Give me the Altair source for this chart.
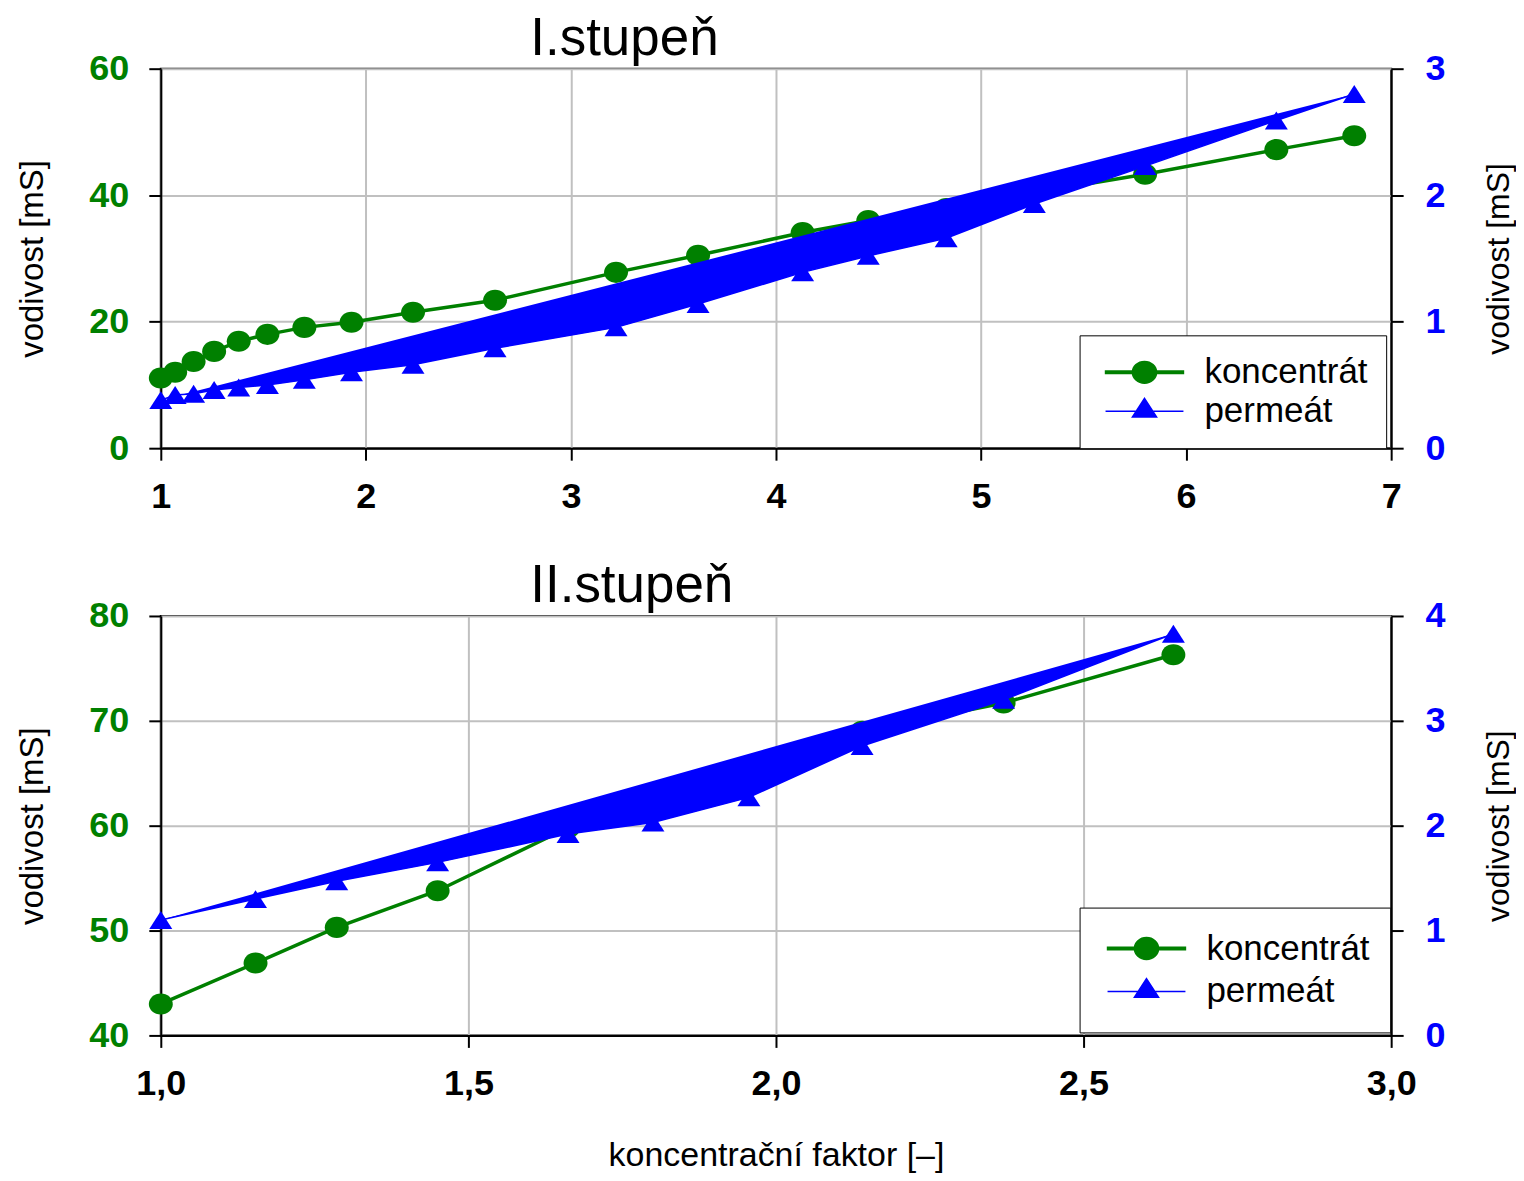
import altair as alt
import pandas as pd

FONT = "Liberation Sans"
GREEN = "#008000"
BLUE = "#0000ff"
GRID = "#c0c0c0"

series_names = ["koncentrát", "permeát"]

# ---- Panel I (I.stupeň) ----
x1 = [1.00, 1.07, 1.16, 1.26, 1.38, 1.52, 1.70, 1.93, 2.23, 2.63, 3.22, 3.62,
      4.13, 4.45, 4.83, 5.26, 5.80, 6.44, 6.82]
konc1 = [11.1, 12.0, 13.7, 15.3, 16.9, 18.0, 19.1, 19.9, 21.5, 23.4, 27.8, 30.5,
         34.1, 36.0, 37.9, 40.4, 43.3, 47.2, 49.4]
perm1 = [0.38, 0.42, 0.43, 0.46, 0.48, 0.50, 0.54, 0.60, 0.66, 0.79, 0.955, 1.14,
         1.39, 1.52, 1.66, 1.93, 2.23, 2.59, 2.80]
x1_ticks = [1, 2, 3, 4, 5, 6, 7]
yl1_ticks = [0, 20, 40, 60]
yr1_ticks = [0, 1, 2, 3]

# ---- Panel II (II.stupeň) ----
x2 = [1.00, 1.154, 1.286, 1.45, 1.662, 1.80, 1.956, 2.14, 2.37, 2.646]
konc2 = [43.0, 46.9, 50.3, 53.8, 59.8, 62.5, 65.7, 69.0, 71.7, 76.3]
perm2 = [1.10, 1.30, 1.47, 1.65, 1.92, 2.03, 2.27, 2.76, 3.20, 3.83]
x2_ticks = [1.0, 1.5, 2.0, 2.5, 3.0]
yl2_ticks = [40, 50, 60, 70, 80]
yr2_ticks = [0, 1, 2, 3, 4]

CIRCLE = "M-1,0A1,0.88 0 1,1 1,0A1,0.88 0 1,1 -1,0Z"
TRIANGLE = "M0,-0.78L1,0.78L-1,0.78Z"
LEG_CIRCLE = ("M-1,-0.03L1,-0.03L1,0.03L-1,0.03Z "
              "M-0.31,0A0.31,0.28 0 1,1 0.31,0A0.31,0.28 0 1,1 -0.31,0Z")
LEG_TRIANGLE = "M-1,0L1,0M0,-0.33L0.31,0.15L-0.31,0.15Z"


def panel(xs, konc, perm, xdom, xticks, xlabel_expr, x_title, yl_dom, yl_ticks,
          yr_dom, yr_ticks, height, title, leg_y, clip_h, leg_pad):
    df = pd.DataFrame({"x": xs, "konc": konc, "perm": perm})
    leg_df = pd.DataFrame({"series": series_names,
                           "x": [xdom[0]] * 2, "y": [yl_dom[0]] * 2})

    xaxis = alt.Axis(values=xticks, labelExpr=xlabel_expr, title=x_title,
                     grid=True, labelPadding=19, titlePadding=37,
                     titleFontSize=34, labelFlush=False)
    X = alt.X("x:Q", scale=alt.Scale(domain=xdom, nice=False, zero=False),
              axis=xaxis)

    yl_scale = alt.Scale(domain=yl_dom, nice=False, zero=False)
    yl_axis = alt.Axis(values=yl_ticks, labelColor=GREEN, title="vodivost [mS]",
                       grid=True, orient="left", labelPadding=20, titlePadding=39,
                       labelFlush=False)
    yr_scale = alt.Scale(domain=yr_dom, nice=False, zero=False)
    yr_axis = alt.Axis(values=yr_ticks, labelColor=BLUE, title="vodivost [mS]",
                       grid=False, orient="right", labelPadding=22,
                       titlePadding=38, titleFontSize=32, titleAngle=270,
                       titleBaseline="top", labelFlush=False)

    green_line = alt.Chart(df).mark_line(color=GREEN, strokeWidth=3.5).encode(
        x=X, y=alt.Y("konc:Q", scale=yl_scale, axis=yl_axis))
    green_pts = alt.Chart(df).mark_point(
        shape=CIRCLE, filled=True, color=GREEN, size=576, opacity=1).encode(
        x=X, y=alt.Y("konc:Q", scale=yl_scale, axis=yl_axis))

    legend = alt.Legend(
        title=None, orient="none", legendX=920, legendY=leg_y,
        padding=leg_pad, strokeColor="black", fillColor="white",
        labelFont=FONT, labelFontSize=35, labelColor="black", labelLimit=400,
        labelOffset=20, symbolSize=78 * 78, clipHeight=clip_h,
        rowPadding=1, symbolOffset=7, symbolStrokeWidth=1.5,
        symbolOpacity=1)
    color_scale = alt.Scale(domain=series_names, range=[GREEN, BLUE])
    leg_layer = alt.Chart(leg_df).transform_filter("datum.x < -1000").mark_point(
        filled=True, opacity=1).encode(
        x=X, y=alt.Y("y:Q", scale=yl_scale, axis=yl_axis),
        fill=alt.Fill("series:N", scale=color_scale, legend=legend),
        stroke=alt.Stroke("series:N", scale=color_scale, legend=legend),
        shape=alt.Shape("series:N",
                        scale=alt.Scale(domain=series_names,
                                        range=[LEG_CIRCLE, LEG_TRIANGLE]),
                        legend=legend),
    )

    blue_poly = alt.Chart(df).mark_line(
        stroke=BLUE, fill=BLUE, strokeWidth=1.5).encode(
        x=X, y=alt.Y("perm:Q", scale=yr_scale, axis=yr_axis))
    blue_pts = alt.Chart(df).mark_point(
        shape=TRIANGLE, filled=True, color=BLUE, size=529, opacity=1).encode(
        x=X, y=alt.Y("perm:Q", scale=yr_scale, axis=yr_axis))

    left = alt.layer(green_line, green_pts, leg_layer)
    right = alt.layer(blue_poly, blue_pts)
    return alt.layer(left, right).resolve_scale(y="independent").properties(
        width=1232, height=height,
        title=alt.TitleParams(title, anchor="start", frame="group", dx=370,
                              fontSize=53, font=FONT, fontWeight="normal",
                              color="black", offset=-15))


top = panel(x1, konc1, perm1, [1, 7], x1_ticks, "format(datum.value, 'd')", None,
            [0, 60], yl1_ticks, [0, 3], yr1_ticks, 380, "I.stupeň", 267, 38, 18)
bottom = panel(x2, konc2, perm2, [1, 3], x2_ticks,
               "replace(format(datum.value, '.1f'), '.', ',')",
               "koncentrační faktor [–]",
               [40, 80], yl2_ticks, [0, 4], yr2_ticks, 420, "II.stupeň", 292, 42, 20)

chart = alt.vconcat(top, bottom, spacing=44).resolve_scale(
    fill="independent", stroke="independent", shape="independent"
).resolve_legend(
    fill="independent", stroke="independent", shape="independent"
).properties(
    padding={"left": 7, "top": 3, "right": 0, "bottom": 0},
    background="white",
).configure_view(
    stroke="black", strokeWidth=2
).configure_axis(
    labelFont=FONT, labelFontSize=36, labelFontWeight="bold", labelColor="black",
    titleFont=FONT, titleFontSize=33, titleFontWeight="normal", titleColor="black",
    domainColor="black", domainWidth=2, tickColor="black", tickWidth=2,
    tickSize=12, gridColor=GRID, gridWidth=2,
)

chart.save("out.html", embed_options={"renderer": "svg", "actions": False})
